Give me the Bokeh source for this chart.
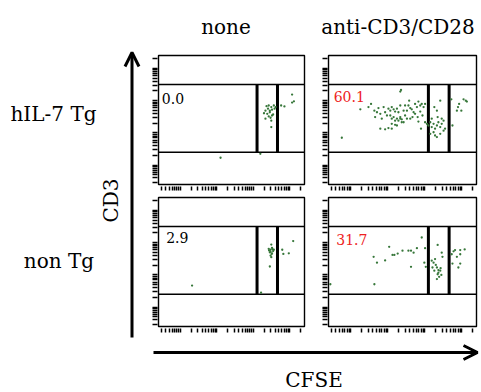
import math
from bokeh.plotting import figure
from bokeh.layouts import row, column
from bokeh.models import FixedTicker, Range1d, Label, Arrow, OpenHead, CustomJSTickFormatter
from bokeh.embed import file_html
from bokeh.resources import INLINE

# ---------------- data (log10 fluorescence units) ----------------
conditions = ["none", "anti-CD3/CD28"]
strains = ["hIL-7 Tg", "non Tg"]
percent_labels = ["0.0", "60.1", "2.9", "31.7"]
percent_colors = ["black", "#ee2222", "black", "#ee2222"]

cfse_gates = [3.10, 3.66]
cd3_gates = [1.40, 3.50]

# hIL-7 Tg, none
tl_cfse = [3.36, 3.42, 3.49, 3.56, 3.61, 3.33, 3.40, 3.45, 3.51, 3.58, 3.29, 3.38, 3.45, 3.51,
           3.42, 3.33, 3.47, 3.54, 3.49, 3.49, 3.76, 3.85, 4.06, 4.11, 4.06, 2.10, 3.19]
tl_cd3 = [2.83, 2.85, 2.80, 2.85, 2.80, 2.69, 2.75, 2.69, 2.72, 2.75, 2.61, 2.59, 2.64, 2.54,
          2.51, 2.44, 2.47, 2.57, 2.38, 2.18, 2.85, 2.82, 3.19, 2.98, 2.94, 1.23, 1.35]

# hIL-7 Tg, anti-CD3/CD28
tr_cfse = [2.34, 2.36, 1.26, 0.76, 1.55, 1.48, 1.64, 1.71, 1.66, 1.75, 1.80, 1.84, 1.89, 1.93,
           1.98, 2.02, 2.07, 2.11, 2.16, 2.20, 2.25, 2.29, 2.07, 2.11, 2.16, 2.20, 2.25, 2.29,
           2.34, 2.38, 2.43, 2.11, 2.20, 2.25, 2.02, 1.93, 1.80, 2.11, 2.34, 2.47, 2.52, 2.56,
           2.58, 2.61, 2.65, 2.70, 2.61, 2.67, 2.74, 2.79, 2.83, 2.88, 2.92, 2.97, 3.01, 2.74,
           2.81, 2.88, 2.94, 2.83, 2.90, 2.43, 2.47, 2.34, 2.38, 2.52,
           3.01, 3.06, 3.10, 3.15, 3.19, 3.24, 3.28, 3.33, 3.37, 3.42, 3.46, 3.51, 3.55,
           3.24, 3.28, 3.15, 3.33, 3.42, 3.51, 3.46, 3.26, 3.33, 3.42, 3.35, 3.19,
           3.72, 3.75, 3.90, 3.87, 3.93, 3.99, 4.05, 4.11, 4.14]
tr_cd3 = [3.28, 3.33, 2.73, 1.85, 2.90, 2.80, 2.69, 2.64, 2.49, 2.77, 2.59, 2.44, 2.80, 2.64,
          2.54, 2.75, 2.69, 2.80, 2.73, 2.66, 2.75, 2.64, 2.54, 2.44, 2.49, 2.38, 2.44, 2.38,
          2.44, 2.42, 2.33, 2.28, 2.25, 2.23, 2.15, 2.11, 2.13, 2.13, 2.49, 2.54, 2.69, 2.85,
          3.00, 2.77, 2.73, 2.64, 2.44, 2.49, 2.90, 2.80, 2.97, 2.85, 2.90, 2.80, 2.90, 2.59,
          2.49, 2.66, 2.54, 2.35, 2.13, 2.69, 2.85, 2.85, 2.33, 2.44,
          2.33, 2.28, 2.23, 2.33, 2.18, 2.28, 2.13, 2.23, 2.33, 2.18, 2.28, 2.38, 2.13,
          2.02, 1.92, 1.97, 1.87, 1.97, 2.07, 2.44, 2.80, 2.69, 3.00, 2.49, 2.44,
          3.04, 2.23, 2.80, 2.69, 2.90, 2.69, 3.04, 3.00, 2.97]

# non Tg, none
bl_cfse = [3.49, 3.42, 3.47, 3.51, 3.56, 3.45, 3.51, 3.47, 3.54, 3.49, 3.45, 3.79, 3.82, 3.97,
           4.09, 1.32, 3.21, 3.43, 3.50, 3.47, 3.52]
bl_cd3 = [2.94, 2.81, 2.78, 2.84, 2.78, 2.70, 2.67, 2.60, 2.74, 2.55, 2.26, 2.78, 2.65, 2.67,
          3.05, 1.67, 1.45, 2.76, 2.65, 2.72, 2.80]

# non Tg, anti-CD3/CD28
br_cfse = [0.45, 1.64, 1.62, 1.71, 1.93, 2.04, 2.13, 2.18, 2.27, 2.40, 2.56, 2.63, 2.70, 2.79,
           2.92, 3.01, 2.63, 2.99, 3.03,
           3.35, 3.28, 3.24, 3.21, 3.26, 3.33, 3.37, 3.42, 3.35, 3.39, 3.33, 3.45, 3.46, 3.48,
           3.19, 3.30, 3.37, 3.43,
           3.73, 3.78, 3.82, 3.87, 3.96, 3.96, 4.08, 3.75, 3.91, 3.96]
br_cd3 = [1.71, 1.71, 2.56, 2.38, 2.45, 2.87, 2.62, 2.62, 2.66, 2.75, 2.75, 2.75, 2.69, 2.83,
          3.16, 2.83, 2.25, 2.38, 2.25,
          2.93, 2.49, 2.38, 2.23, 2.13, 2.23, 2.15, 2.13, 2.02, 1.94, 1.87, 2.00, 2.69, 2.56,
          2.44, 2.31, 2.07, 2.21,
          2.64, 2.73, 2.77, 2.56, 2.77, 2.64, 2.79, 2.35, 2.23, 2.35]

AX_MIN, AX_MAX = 0.4, 4.4
major_ticks = [1, 2, 3, 4]
minor_ticks = [n + math.log10(k) for n in range(5) for k in range(2, 10)
               if AX_MIN < n + math.log10(k) < AX_MAX]

FONT = "DejaVu Serif"
BIG = "20px"
DOT = "#37773a"


def blank(w, h):
    p = figure(width=w, height=h, x_range=Range1d(0, w), y_range=Range1d(0, h),
               x_axis_type=None, y_axis_type=None, output_backend="svg",
               toolbar_location=None, min_border=0, outline_line_color=None)
    p.grid.visible = False
    return p


def text(p, x, y, s, angle=0.0):
    p.add_layout(Label(x=x, y=y, text=s, text_font=FONT, text_font_size=BIG,
                       text_align="center", text_baseline="middle", angle=angle,
                       text_color="black"))


def panel(cfse, cd3, label, color, lx, ly, width, bl, br, bt, bb):
    p = figure(width=width, height=147, x_range=Range1d(AX_MIN, AX_MAX),
               y_range=Range1d(AX_MIN, AX_MAX), output_backend="svg",
               toolbar_location=None, min_border_left=bl, min_border_right=br,
               min_border_top=bt, min_border_bottom=bb,
               outline_line_color="black", outline_line_width=1.4, outline_line_alpha=1)
    p.grid.visible = False
    for ax in (p.xaxis[0], p.yaxis[0]):
        ax.ticker = FixedTicker(ticks=major_ticks, minor_ticks=minor_ticks)
        ax.formatter = CustomJSTickFormatter(code="return ''")
        ax.major_label_text_font_size = "0px"
        ax.major_label_standoff = 0
        ax.axis_line_color = None
        ax.major_tick_line_color = "black"
        ax.minor_tick_line_color = "black"
        ax.major_tick_line_width = 1.5
        ax.minor_tick_line_width = 1.5
    p.xaxis.major_tick_in = -2
    p.xaxis.major_tick_out = 6
    p.xaxis.minor_tick_in = -2
    p.xaxis.minor_tick_out = 6
    p.yaxis.major_tick_in = -1
    p.yaxis.major_tick_out = 6
    p.yaxis.minor_tick_in = -1
    p.yaxis.minor_tick_out = 6
    # gates
    p.segment(x0=[AX_MIN] * len(cd3_gates), y0=cd3_gates, x1=[AX_MAX] * len(cd3_gates),
              y1=cd3_gates, line_color="black", line_width=1.6)
    p.segment(x0=cfse_gates, y0=[cd3_gates[0]] * len(cfse_gates), x1=cfse_gates,
              y1=[cd3_gates[1]] * len(cfse_gates), line_color="black", line_width=3)
    p.scatter(cfse, cd3, marker="circle", size=2.3, fill_color=DOT, line_color=None)
    p.add_layout(Label(x=lx, y=ly, text=label, text_color=color, text_font=FONT,
                       text_font_size="14px", text_baseline="middle", text_align="left"))
    return p


tl = panel(tl_cfse, tl_cd3, percent_labels[0], percent_colors[0], 0.49, 3.06, 166, 8, 12, 11, 7)
tr = panel(tr_cfse, tr_cd3, percent_labels[1], percent_colors[1], 0.54, 3.13, 164, 12, 4, 11, 7)
bl = panel(bl_cfse, bl_cd3, percent_labels[2], percent_colors[2], 0.61, 3.17, 166, 8, 12, 6, 12)
br = panel(br_cfse, br_cd3, percent_labels[3], percent_colors[3], 0.61, 3.11, 164, 12, 4, 6, 12)

# header with condition titles
header = blank(330, 44)
text(header, 75.5, 18, conditions[0])
text(header, 247.5, 18, conditions[1])

# left side: strain labels, CD3 axis title and arrow
left = blank(150, 338)
text(left, 53, 224.5, strains[0])
text(left, 58.5, 77.3, strains[1])
text(left, 110, 138, "CD3", angle=math.pi / 2)
left.add_layout(Arrow(end=OpenHead(size=14, line_width=3, line_color="black"),
                      x_start=131.5, y_start=1, x_end=131.5, y_end=286,
                      line_width=3, line_color="black"))

# bottom: CFSE arrow and title
bottom = blank(480, 52)
bottom.add_layout(Arrow(end=OpenHead(size=14, line_width=3, line_color="black"),
                        x_start=153, y_start=38, x_end=477, y_end=38,
                        line_width=3, line_color="black"))
text(bottom, 313.5, 11, "CFSE")

layout = column(row(left, column(header, row(tl, tr), row(bl, br))), bottom)

open("out.html", "w").write(file_html(layout, INLINE))
